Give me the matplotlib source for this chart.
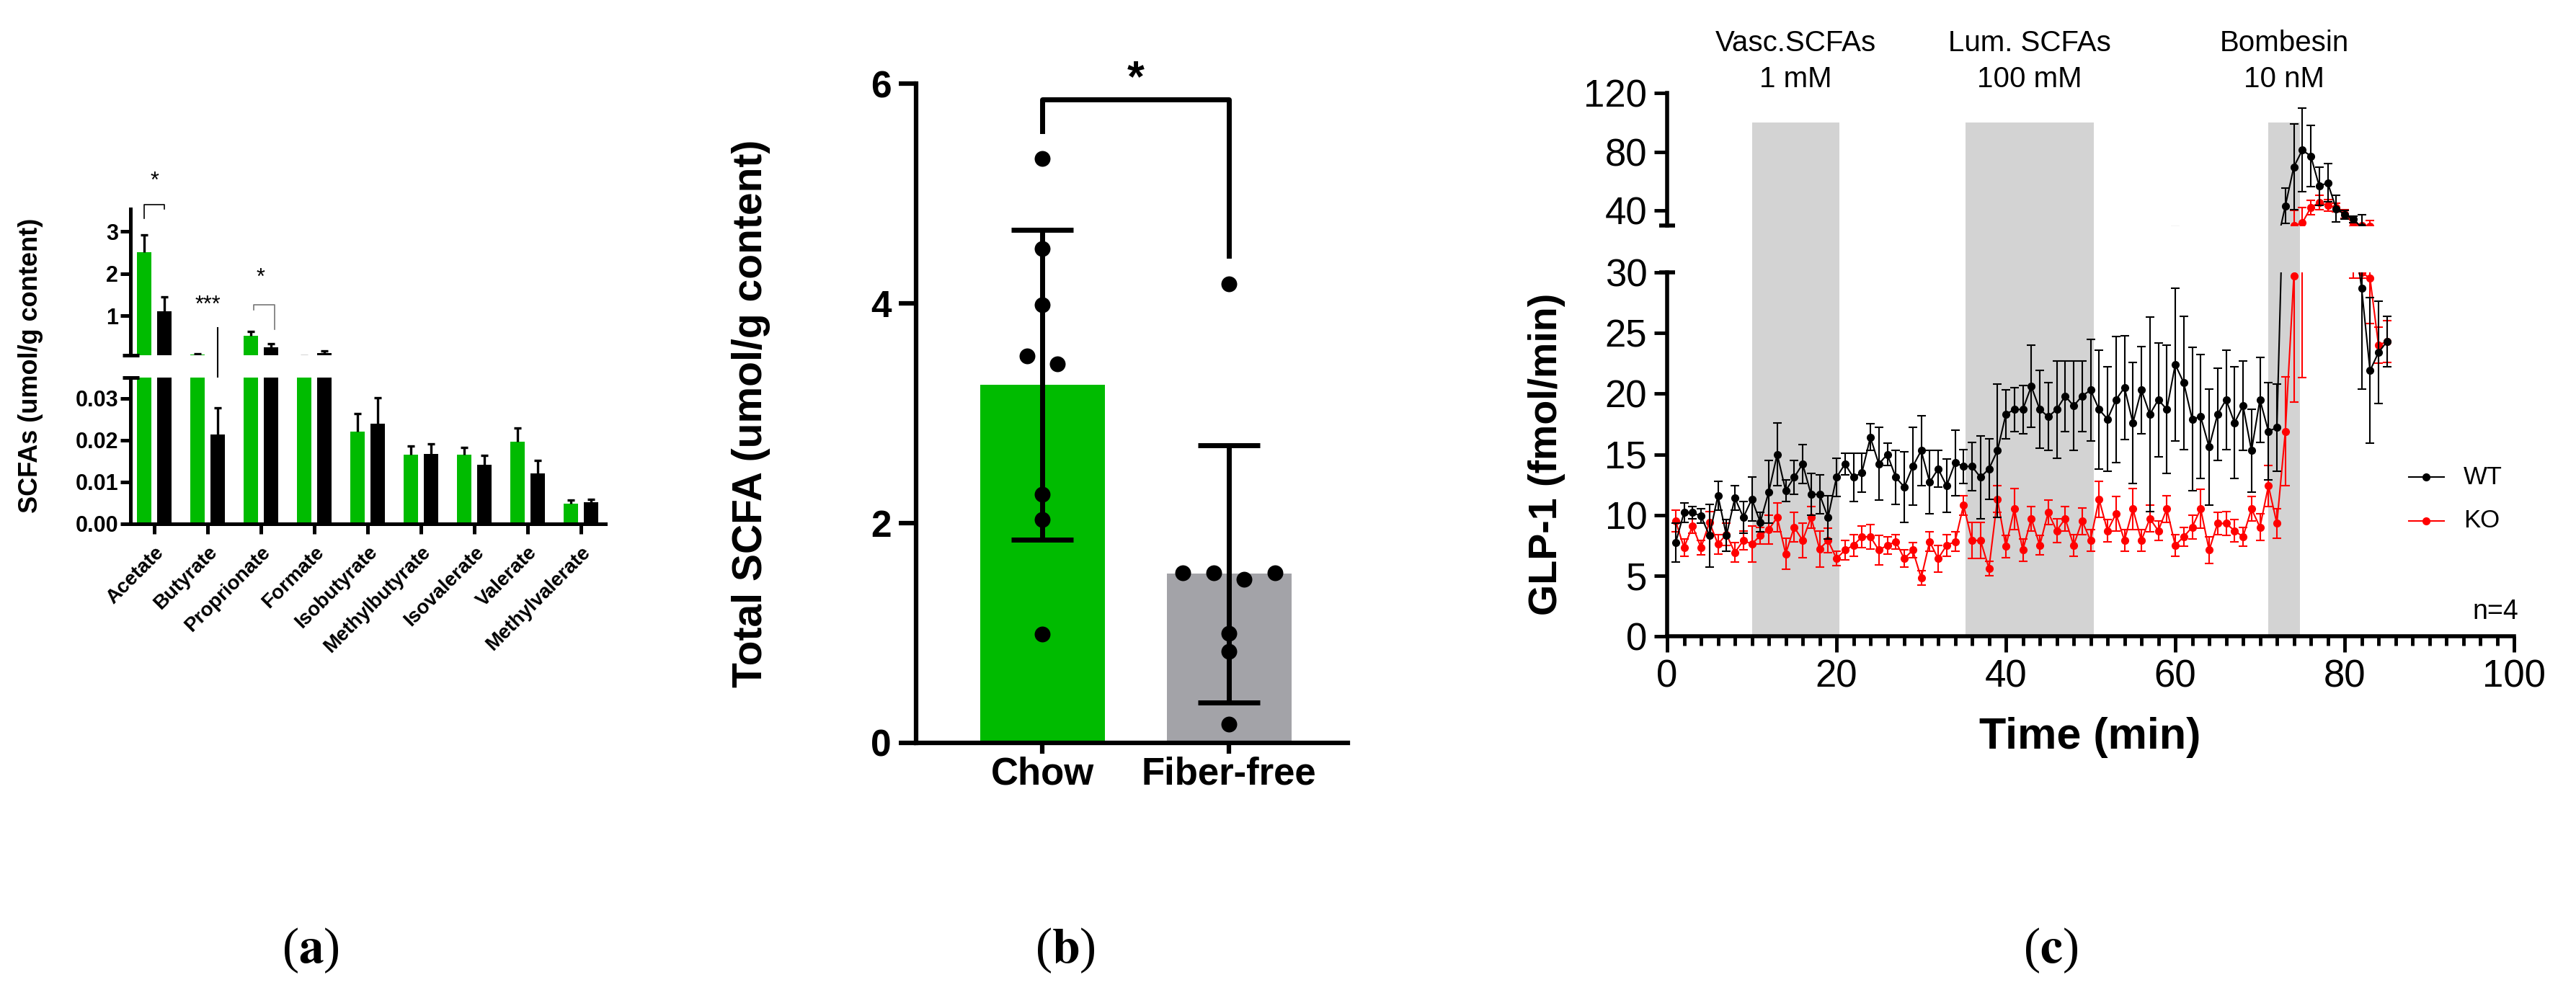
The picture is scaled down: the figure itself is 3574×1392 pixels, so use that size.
import numpy as np
import matplotlib
matplotlib.use("Agg")
import matplotlib.pyplot as plt
from matplotlib.lines import Line2D
from matplotlib.patches import Rectangle
from matplotlib.transforms import blended_transform_factory

W, H, DPI = 3574, 1392, 100
GREEN = '#00bb00'
GREY_BAR = '#a3a3a8'
SHADE = '#d3d3d3'

plt.rcParams['font.family'] = ['Liberation Sans', 'DejaVu Sans']
plt.rcParams['mathtext.fontset'] = 'stix'

# ---- panel (a): SCFAs per acid, green vs black group ----
acids = ['Acetate', 'Butyrate', 'Proprionate', 'Formate', 'Isobutyrate',
         'Methylbutyrate', 'Isovalerate', 'Valerate', 'Methylvalerate']
a_green = [2.50, 0.08, 0.52, 0.040, 0.0220, 0.0165, 0.0165, 0.0197, 0.0048]
a_green_err = [0.42, 0.02, 0.11, 0.0, 0.0044, 0.0021, 0.0017, 0.0033, 0.0009]
a_black = [1.10, 0.0213, 0.25, 0.11, 0.0240, 0.0167, 0.0141, 0.0121, 0.0052]
a_black_err = [0.34, 0.0064, 0.08, 0.05, 0.0062, 0.0025, 0.0023, 0.0030, 0.0006]

# ---- panel (b): total SCFA ----
groups = ['Chow', 'Fiber-free']
chow_pts = [5.32, 4.50, 3.99, 3.52, 3.45, 2.26, 2.03, 0.99]
chow_slot = [0, 0, 0, -1, 1, 0, 0, 0]
ff_pts = [4.18, 1.55, 1.55, 1.49, 1.55, 1.00, 0.83, 0.17]
ff_slot = [0, -3, -1, 1, 3, 0, 0, 0]
b_sd = [1.41, 1.17]

# ---- panel (c): GLP-1 time course ----
minutes = np.arange(1, 86)
wt = [7.7, 10.2, 10.2, 9.9, 8.3, 11.6, 8.3, 11.4, 9.8, 11.3,
      9.4, 11.9, 15.0, 12.0, 13.1, 14.2, 11.7, 11.7, 9.8, 13.1,
      14.2, 13.1, 13.5, 16.4, 14.2, 15.0, 13.1, 12.3, 14.0, 15.3,
      12.7, 13.8, 12.4, 14.3, 14.0, 14.0, 13.1, 13.8, 15.3, 18.3,
      18.7, 18.7, 20.6, 18.7, 18.1, 18.7, 19.8, 19.0, 19.8, 20.3,
      18.7, 17.9, 19.5, 20.5, 17.6, 20.3, 18.3, 19.5, 18.7, 22.4,
      20.9, 17.9, 18.1, 15.6, 18.3, 19.5, 17.6, 19.0, 15.3, 19.5,
      16.9, 17.2, 43.2, 69.7, 81.1, 77.1, 56.7, 58.8, 41.3, 37.2,
      34.0, 28.7, 21.9, 23.4, 24.3]
wt_err = [1.6, 0.8, 0.5, 0.6, 2.6, 1.2, 1.3, 1.0, 1.3, 1.8,
          0.8, 2.6, 2.6, 0.9, 1.4, 1.6, 1.7, 1.6, 1.8, 1.6,
          0.9, 2.0, 1.6, 1.1, 3.0, 0.9, 2.2, 2.9, 3.2, 2.9,
          2.6, 1.5, 2.2, 2.7, 1.4, 2.0, 3.4, 2.5, 5.5, 2.0,
          1.8, 2.0, 3.4, 3.2, 2.8, 4.0, 2.9, 3.7, 2.9, 4.2,
          4.9, 4.3, 5.2, 4.3, 5.0, 3.6, 8.0, 4.7, 5.3, 6.3,
          5.5, 5.9, 5.1, 4.8, 3.8, 4.1, 4.6, 3.7, 3.4, 3.5,
          4.0, 3.6, 12.0, 29.0, 28.5, 21.0, 13.0, 13.0, 9.0, 3.0,
          2.0, 8.3, 6.0, 4.2, 2.1]
ko = [9.5, 7.3, 9.1, 7.3, 9.4, 7.6, 8.4, 6.9, 7.9, 7.6,
      8.3, 8.8, 9.8, 6.8, 9.0, 7.9, 9.8, 7.2, 7.9, 6.4,
      7.1, 7.5, 8.2, 8.2, 7.1, 7.5, 7.8, 6.4, 7.1, 4.8,
      7.8, 6.4, 7.5, 7.8, 10.8, 7.9, 7.9, 5.6, 11.3, 7.4,
      10.5, 7.1, 9.7, 7.5, 10.2, 8.7, 9.7, 7.5, 9.5, 7.9,
      11.3, 8.7, 10.1, 7.9, 10.5, 7.9, 9.7, 8.7, 10.5, 7.5,
      8.2, 9.0, 10.5, 7.1, 9.3, 9.3, 8.7, 8.2, 10.5, 9.0,
      12.4, 9.3, 16.9, 29.7, 31.6, 42.0, 45.5, 43.5, 42.0, 37.5,
      31.5, 30.0, 29.5, 24.0, 24.3]
ko_err = [0.9, 0.7, 0.6, 0.6, 0.9, 0.8, 0.9, 0.8, 0.8, 1.5,
          0.7, 1.2, 1.2, 1.3, 1.2, 1.4, 0.9, 1.5, 1.0, 0.6,
          0.8, 0.9, 0.9, 1.0, 1.2, 0.7, 0.6, 0.7, 0.6, 0.6,
          0.8, 1.1, 0.9, 0.8, 0.8, 1.5, 1.5, 0.6, 1.1, 0.9,
          1.7, 0.9, 1.0, 0.8, 1.0, 1.0, 1.0, 0.9, 1.1, 0.9,
          1.5, 0.9, 1.4, 0.9, 1.7, 0.9, 1.1, 0.8, 1.1, 0.9,
          0.8, 1.0, 1.6, 1.1, 0.9, 1.0, 0.9, 0.8, 1.0, 1.1,
          1.7, 1.2, 4.5, 10.4, 10.3, 5.0, 5.0, 4.0, 3.0, 3.0,
          2.0, 0.5, 3.7, 1.5, 1.7]
stim_spans = [(10, 20.3), (35.2, 50.4), (71, 74.7)]
stim_names = ['Vasc.SCFAs', 'Lum. SCFAs', 'Bombesin']
stim_doses = ['1 mM', '100 mM', '10 nM']

fig = plt.figure(figsize=(W / DPI, H / DPI), dpi=DPI)


def fx(px):
    return px / W


def fy(py):
    return 1 - py / H


def add_ax(l, t, r, b):
    return fig.add_axes([fx(l), fy(b), (r - l) / W, (b - t) / H])


def clean(ax, lw):
    for s in ('top', 'right'):
        ax.spines[s].set_visible(False)
    for s in ('left', 'bottom'):
        ax.spines[s].set_linewidth(lw)


# ================= panel (a) =================
ax_au = add_ax(181, 290, 840, 493)
ax_al = add_ax(181, 524, 840, 727)
xa = np.arange(len(acids))
bw, off, cw = 0.26, 0.19, 0.065
for ax in (ax_au, ax_al):
    clean(ax, 3.6)
    ax.bar(xa - off, a_green, bw, color=GREEN, zorder=2)
    ax.bar(xa + off, a_black, bw, color='black', zorder=2)
    for xs, vals, errs in ((xa - off, a_green, a_green_err), (xa + off, a_black, a_black_err)):
        tops = np.array(vals) + np.array(errs)
        ax.vlines(xs, vals, tops, color='black', lw=2.4, zorder=3)
        ax.hlines(tops, xs - cw, xs + cw, color='black', lw=2.4, zorder=3)
    ax.set_xlim(-0.446, 8.46)
    ax.tick_params(axis='both', width=3.6, length=10, labelsize=22, pad=2)

ax_au.set_ylim(0.06, 3.53)
ax_au.spines['bottom'].set_visible(False)
ax_au.set_xticks([])
ax_au.set_yticks([1, 2, 3])
ax_au.set_yticklabels(['1', '2', '3'], fontweight='bold', fontsize=22)
ax_al.set_ylim(0, 0.035)
ax_al.set_yticks([0, 0.01, 0.02, 0.03])
ax_al.set_yticklabels(['0.00', '0.01', '0.02', '0.03'], fontweight='bold', fontsize=22)
ax_al.set_xticks(xa)
ax_al.set_xticklabels(acids, rotation=45, ha='right', va='top', rotation_mode='anchor',
                      fontweight='bold', fontsize=20)
ax_al.tick_params(axis='x', pad=9)

# axis break caps
ax_au.plot([-0.016, 0.018], [0, 0], transform=ax_au.transAxes, color='black', lw=3.6,
           clip_on=False, solid_capstyle='butt')
ax_al.plot([-0.016, 0.018], [1, 1], transform=ax_al.transAxes, color='black', lw=3.6,
           clip_on=False, solid_capstyle='butt')

# significance marks
ax_au.plot([-off, -off, off, off], [3.31, 3.63, 3.63, 3.53], color='black', lw=1.2, clip_on=False)
ax_au.text(0, 4.04, '*', ha='center', va='baseline', fontsize=22)
ax_au.text(1, 1.10, '***', ha='center', va='baseline', fontsize=22)
ax_au.plot([1 + off, 1 + off], [0.71, -0.846], color='black', lw=1.5, clip_on=False)
ax_au.plot([2 - 0.135, 2 - 0.135, 2 + 0.257, 2 + 0.257], [1.14, 1.256, 1.256, 0.675],
           color='#777777', lw=1.2, clip_on=False)
ax_au.text(2, 1.75, '*', ha='center', va='baseline', fontsize=22)

fig.text(fx(43), fy(507), 'SCFAs (umol/g content)', rotation=90, ha='center', va='center',
         fontsize=26, fontweight='bold')

# ================= panel (b) =================
ax_b = add_ax(1271, 116, 1870, 1031)
clean(ax_b, 4.5)
xb = np.arange(len(groups))
means = [np.mean(chow_pts), np.mean(ff_pts)]
ax_b.bar(xb, means, 0.668, color=[GREEN, GREY_BAR], zorder=1)
ax_b.errorbar(xb, means, yerr=b_sd, fmt='none', ecolor='black', elinewidth=5,
              capsize=31, capthick=5, zorder=3)
for xc, pts, slots in ((0, chow_pts, chow_slot), (1, ff_pts, ff_slot)):
    ax_b.scatter(xc + np.array(slots) * 0.082, pts, s=250, color='black', zorder=4,
                 linewidths=0)
ax_b.set_xlim(-0.676, 1.637)
ax_b.set_ylim(0, 6)
ax_b.set_yticks([0, 2, 4, 6])
ax_b.set_yticklabels(['0', '2', '4', '6'], fontweight='bold', fontsize=37)
ax_b.set_xticks(xb)
ax_b.set_xticklabels(groups, fontweight='bold', fontsize=38)
ax_b.tick_params(axis='y', width=4.5, length=17, pad=8)
ax_b.tick_params(axis='x', width=4.5, length=11, pad=2)
ax_b.plot([0, 0, 1, 1], [5.57, 5.856, 5.856, 4.43], color='black', lw=5, clip_on=False)
ax_b.text(0.5, 5.93, '*', ha='center', va='baseline', fontsize=44, fontweight='bold')
fig.text(fx(1042), fy(574), 'Total SCFA (umol/g content)', rotation=90, ha='center',
         va='center', fontsize=41, fontweight='bold')

# ================= panel (c) =================
ax_cu = add_ax(2313, 129, 3488, 313)
ax_cl = add_ax(2313, 378, 3488, 883)

shade_tr = blended_transform_factory(ax_cl.transData, fig.transFigure)
for t0, t1 in stim_spans:
    fig.add_artist(Rectangle((t0, fy(883)), t1 - t0, (883 - 170) / H, transform=shade_tr,
                             facecolor=SHADE, edgecolor='none', zorder=-5))
for (t0, t1), name, dose in zip(stim_spans, stim_names, stim_doses):
    xc = (t0 + t1) / 2
    ax_cl.text(xc, fy(60), name, transform=shade_tr, ha='center', va='center', fontsize=29)
    ax_cl.text(xc, fy(110), dose, transform=shade_tr, ha='center', va='center', fontsize=29)

for ax in (ax_cu, ax_cl):
    ax.patch.set_alpha(0)
    clean(ax, 4)
    ax.errorbar(minutes, ko, yerr=ko_err, color='red', marker='o', ms=7, lw=1.5,
                elinewidth=1.5, capsize=4.5, capthick=1.5, zorder=3)
    ax.errorbar(minutes, wt, yerr=wt_err, color='black', marker='o', ms=7, lw=1.5,
                elinewidth=1.5, capsize=4.5, capthick=1.5, zorder=4)
    ax.set_xlim(0, 100)
    ax.tick_params(axis='y', width=3.5, length=13, labelsize=38, pad=7)

ax_cu.set_ylim(29.8, 120)
ax_cu.set_yticks([40, 80, 120])
ax_cu.spines['bottom'].set_visible(False)
ax_cu.set_xticks([])
ax_cl.set_ylim(0, 30)
ax_cl.set_yticks([0, 5, 10, 15, 20, 25, 30])
ax_cl.set_xticks([0, 20, 40, 60, 80, 100])
ax_cl.set_xticks(np.arange(0, 101, 2), minor=True)
ax_cl.tick_params(axis='x', which='major', width=3.5, length=16, labelsize=38, pad=7)
ax_cl.tick_params(axis='x', which='minor', width=3.5, length=9)

ax_cu.plot([-0.009, 0.009], [0, 0], transform=ax_cu.transAxes, color='black', lw=4,
           clip_on=False, solid_capstyle='butt')
ax_cl.plot([-0.009, 0.009], [1, 1], transform=ax_cl.transAxes, color='black', lw=4,
           clip_on=False, solid_capstyle='butt')

fig.text(fx(2900), fy(1023), 'Time (min)', ha='center', va='center', fontsize=44,
         fontweight='bold')
fig.text(fx(2146), fy(630), 'GLP-1 (fmol/min)', rotation=90, ha='center', va='center',
         fontsize=40, fontweight='bold')

# legend
for i, (lab, col) in enumerate((('WT', 'black'), ('KO', 'red'))):
    yy = fy(662 + 61 * i)
    fig.add_artist(Line2D([fx(3342), fx(3391)], [yy, yy], color=col, lw=1.5))
    fig.add_artist(Line2D([fx(3366)], [yy], marker='o', ms=7, color=col))
    fig.text(fx(3418), yy, lab, fontsize=25, ha='left', va='center')
fig.text(fx(3494), fy(849), 'n=4', fontsize=27, ha='right', va='center')

# panel letters
for px, letter in ((431, 'a'), (1478, 'b'), (2845, 'c')):
    fig.text(fx(px), fy(1319), '($\\mathbf{%s}$)' % letter, ha='center', va='center',
             fontsize=50, family='Liberation Serif')

fig.savefig('out.png', dpi=DPI, facecolor='white')
